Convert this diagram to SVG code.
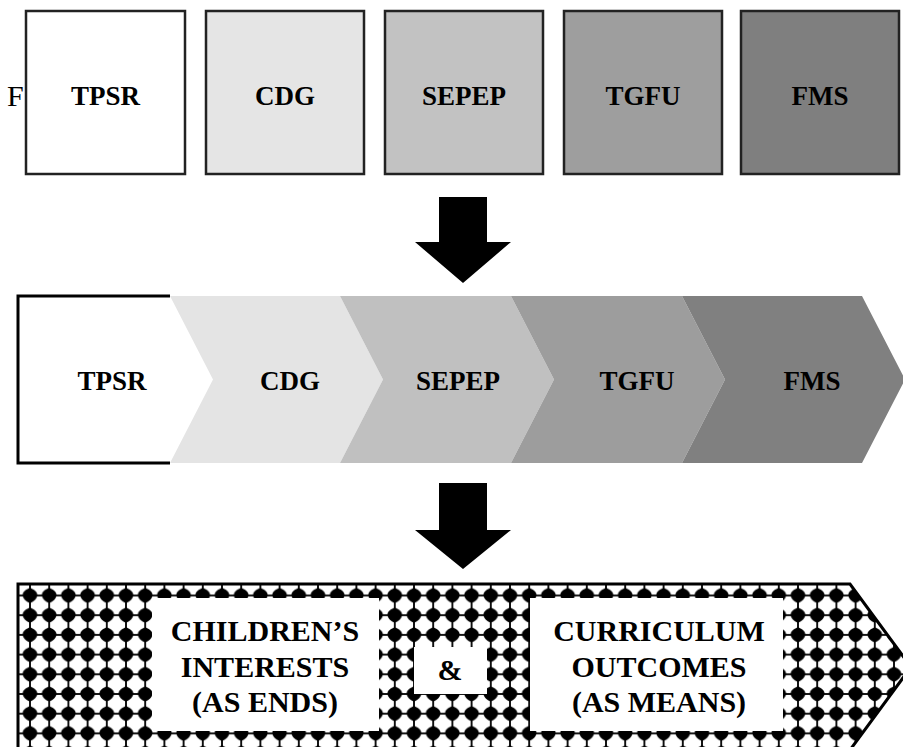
<svg xmlns="http://www.w3.org/2000/svg" width="903" height="747" viewBox="0 0 903 747">
  <style>
    .lbl { font-family: "Liberation Serif", "Times New Roman", serif; font-weight: bold; font-size: 27px; fill: #000; text-anchor: middle; }
    .big { font-family: "Liberation Serif", "Times New Roman", serif; font-weight: bold; font-size: 30px; fill: #000; text-anchor: middle; }
    .box { stroke: #222; stroke-width: 2.5; }
    .arrow { fill: #000; }
  </style>
  <defs>
    <!-- repeating blob-and-grid fill for the bottom banner -->
    <pattern id="blobs" patternUnits="userSpaceOnUse" x="20.4" y="585.65" width="19.2" height="19.7">
      <rect width="19.2" height="19.7" fill="#fff"/>
      <line x1="0" y1="9.85" x2="19.2" y2="9.85" stroke="#000" stroke-width="1.8"/>
      <line x1="9.6" y1="0" x2="9.6" y2="19.7" stroke="#000" stroke-width="1.8"/>
      <path transform="translate(9.6 9.85)" fill="#000" d="M0,-8 C2,-6.5 7,-5 7.3,-1 C7.5,3 4,6 0,7.6 C-4,6 -7.5,3 -7.3,-1 C-7,-5 -2,-6.5 0,-8Z"/>
    </pattern>
    <clipPath id="bannerClip">
      <polygon points="18,584 850,584 911,667 850,750 18,750"/>
    </clipPath>
  </defs>

  <rect width="903" height="747" fill="#fff"/>

  <!-- row 1: separate squares -->
  <text x="7" y="106" font-family="Liberation Serif, serif" font-size="30">F</text>
  <g id="box-tpsr">
    <rect class="box" x="26" y="11" width="159" height="163" fill="#fff"/>
    <text class="lbl" x="105.5" y="105">TPSR</text>
  </g>
  <g id="box-cdg">
    <rect class="box" x="206" y="11" width="158" height="163" fill="#e5e5e5"/>
    <text class="lbl" x="285" y="105">CDG</text>
  </g>
  <g id="box-sepep">
    <rect class="box" x="385" y="11" width="158" height="163" fill="#c2c2c2"/>
    <text class="lbl" x="464" y="105">SEPEP</text>
  </g>
  <g id="box-tgfu">
    <rect class="box" x="564" y="11" width="158" height="163" fill="#9e9e9e"/>
    <text class="lbl" x="643" y="105">TGFU</text>
  </g>
  <g id="box-fms">
    <rect class="box" x="741" y="11" width="158" height="163" fill="#7f7f7f"/>
    <text class="lbl" x="820" y="105">FMS</text>
  </g>

  <!-- row 2: chevron process -->
  <g id="chev-tpsr">
    <polygon points="18,296 170,296 213,379.5 170,463 18,463" fill="#fff"/>
    <polyline points="170,296 18,296 18,463 170,463" fill="none" stroke="#000" stroke-width="3"/>
    <text class="lbl" x="112" y="390">TPSR</text>
  </g>
  <g id="chev-cdg">
    <polygon points="170,296 340,296 383,379.5 340,463 170,463 213,379.5" fill="#e4e4e4"/>
    <text class="lbl" x="290" y="390">CDG</text>
  </g>
  <g id="chev-sepep">
    <polygon points="340,296 511,296 554,379.5 511,463 340,463 383,379.5" fill="#c0c0c0"/>
    <text class="lbl" x="458" y="390">SEPEP</text>
  </g>
  <g id="chev-tgfu">
    <polygon points="511,296 682,296 725,379.5 682,463 511,463 554,379.5" fill="#9d9d9d"/>
    <text class="lbl" x="637" y="390">TGFU</text>
  </g>
  <g id="chev-fms">
    <polygon points="682,296 862,296 905,379.5 862,463 682,463 725,379.5" fill="#808080"/>
    <text class="lbl" x="812" y="390">FMS</text>
  </g>

  <!-- connectors: block arrows between rows -->
  <g id="connectors">
    <polygon class="arrow" points="439,197 487,197 487,242 511,242 463,283 415,242 439,242"/>
    <polygon class="arrow" points="439,483 487,483 487,530 511,530 463,569 415,530 439,530"/>
  </g>

  <!-- row 3: patterned banner arrow -->
  <g id="banner">
    <polygon points="18,584 850,584 911,667 850,750 18,750" fill="url(#blobs)"/>
    <g clip-path="url(#bannerClip)" fill="#fff">
      <rect x="152" y="598" width="227" height="133"/>
      <rect x="414" y="647" width="73" height="47"/>
      <rect x="530" y="598" width="253" height="133"/>
    </g>
    <polygon points="18,584 850,584 911,667 850,750 18,750" fill="none" stroke="#000" stroke-width="3"/>
  </g>
  <g id="text-interests">
    <text class="big" x="265" y="641">CHILDREN’S</text>
    <text class="big" x="265" y="677">INTERESTS</text>
    <text class="big" x="265" y="712">(AS ENDS)</text>
  </g>
  <g id="text-amp">
    <text class="big" x="450" y="680" font-size="28">&amp;</text>
  </g>
  <g id="text-outcomes">
    <text class="big" x="659" y="641">CURRICULUM</text>
    <text class="big" x="659" y="677">OUTCOMES</text>
    <text class="big" x="659" y="712">(AS MEANS)</text>
  </g>
</svg>
